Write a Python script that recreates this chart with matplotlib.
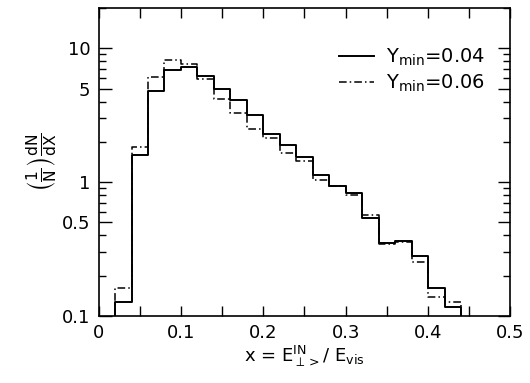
import numpy as np
import matplotlib
matplotlib.use("Agg")
import matplotlib.pyplot as plt
from matplotlib.ticker import FixedLocator, NullFormatter, LogLocator

# bin edges of x = E_perp^IN / E_vis
edges = np.round(np.arange(0.02, 0.4401, 0.02), 2)

# (1/N) dN/dx
ymin_004 = [0.127, 1.60, 4.81, 6.86, 7.26, 6.25, 4.95, 4.12, 3.17, 2.29, 1.90,
            1.55, 1.14, 0.929, 0.828, 0.543, 0.348, 0.364, 0.280, 0.163, 0.117]
ymin_006 = [0.161, 1.84, 6.15, 8.18, 7.68, 5.88, 4.15, 3.26, 2.50, 2.14, 1.64,
            1.43, 1.03, 0.94, 0.805, 0.568, 0.344, 0.358, 0.254, 0.138, 0.128]

labels = ["Y$_{\\rm min}$=0.04", "Y$_{\\rm min}$=0.06"]

plt.rcParams['font.family'] = ['DejaVu Sans']
plt.rcParams['mathtext.fontset'] = 'dejavusans'

fig = plt.figure(figsize=(5.30, 3.83), dpi=100)
ax = fig.add_axes([0.186, 0.175, 0.777, 0.804])


def step_outline(edges, vals):
    xs = np.repeat(edges, 2)
    ys = np.concatenate([[0.1], np.repeat(vals, 2), [0.1]])
    return xs, ys


x1, y1 = step_outline(edges, ymin_004)
x2, y2 = step_outline(edges, ymin_006)
ax.plot(x1, y1, color='black', lw=1.4, label=labels[0])
ax.plot(x2, y2, color='black', lw=1.1, linestyle=(0, (5, 2, 1, 2)), label=labels[1])

ax.set_yscale('log')
ax.set_xlim(0, 0.5)
ax.set_ylim(0.1, 20)

ax.xaxis.set_major_locator(FixedLocator([0, 0.1, 0.2, 0.3, 0.4, 0.5]))
ax.xaxis.set_minor_locator(FixedLocator([0.05, 0.15, 0.25, 0.35, 0.45]))
ax.set_xticklabels(['0', '0.1', '0.2', '0.3', '0.4', '0.5'])
ax.yaxis.set_major_locator(FixedLocator([0.1, 0.5, 1, 5, 10]))
ax.set_yticklabels(['0.1', '0.5', '1', '5', '10'])
ax.yaxis.set_minor_locator(LogLocator(base=10, subs=np.arange(2, 10)))
ax.yaxis.set_minor_formatter(NullFormatter())

ax.tick_params(which='both', direction='in', top=True, right=True,
               labelsize=13, width=1.0)
ax.tick_params(axis='x', which='both', length=7, pad=6)
ax.tick_params(axis='y', which='major', length=9, pad=6)
ax.tick_params(axis='y', which='minor', length=5)
for s in ax.spines.values():
    s.set_linewidth(1.2)

ax.set_xlabel('x = E$_{\\perp>}^{\\rm IN}$/ E$_{\\rm vis}$', fontsize=13, labelpad=1)
ax.set_ylabel('$\\left(\\frac{1}{\\mathrm{N}}\\right)\\frac{\\mathrm{dN}}{\\mathrm{dX}}$',
              fontsize=16, labelpad=2)

ax.legend(loc='upper right', frameon=False, fontsize=14, handlelength=1.8,
          handletextpad=0.6, borderaxespad=0.8, labelspacing=0.25,
          bbox_to_anchor=(0.995, 0.95))

fig.savefig('out.png', dpi=100)
